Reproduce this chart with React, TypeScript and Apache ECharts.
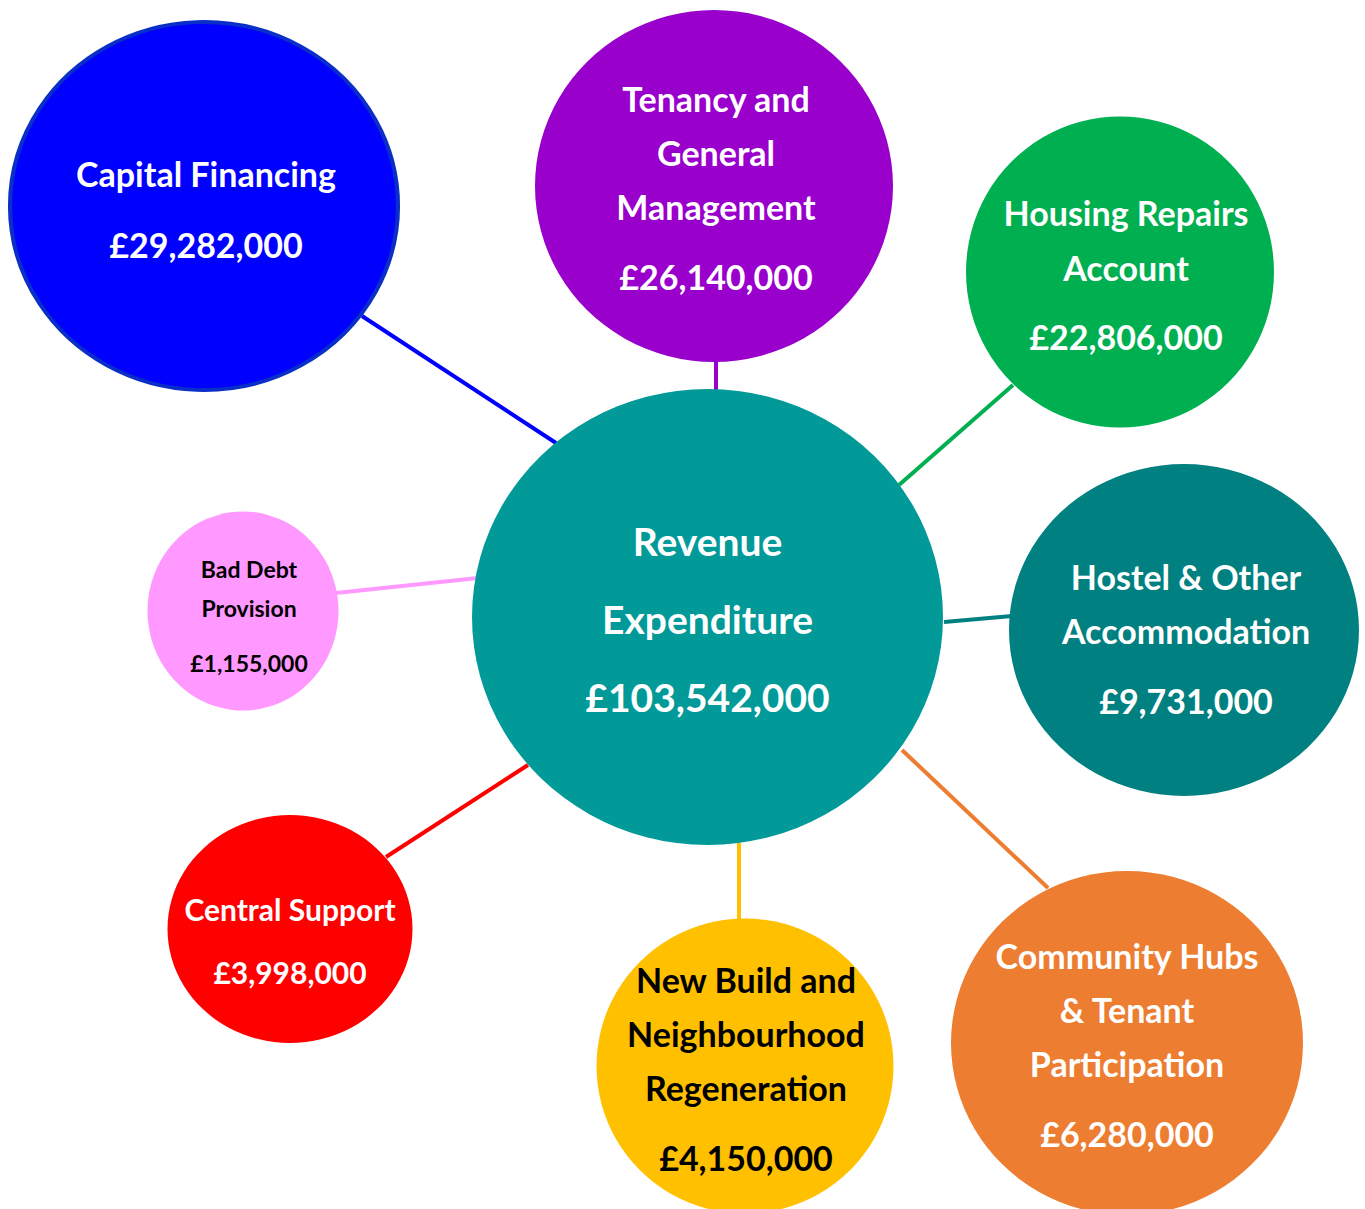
import React, { useEffect, useRef } from "react";
import * as echarts from "echarts";

// ---- data ----
const categories: string[][] = [
  ["Revenue", "Expenditure"],
  ["Capital Financing"],
  ["Tenancy and", "General", "Management"],
  ["Housing Repairs", "Account"],
  ["Hostel & Other", "Accommodation"],
  ["Community Hubs", "& Tenant", "Participation"],
  ["New Build and", "Neighbourhood", "Regeneration"],
  ["Central Support"],
  ["Bad Debt", "Provision"],
];
const amounts: number[] = [103542000, 29282000, 26140000, 22806000, 9731000, 6280000, 4150000, 3998000, 1155000];

// ---- layout (diagram positions in a 1365 x 1209 space) ----
const centers: number[][] = [
  [707.5, 617], [204, 206], [714, 186], [1120, 272], [1184, 630],
  [1127, 1043], [745, 1066], [290, 929], [243, 611],
];
const sizes: number[][] = [
  [471, 456], [388, 368], [358, 352], [308, 311], [350, 332],
  [352, 344], [297, 295], [245, 228], [191, 199],
];
// connector segments (from, to) for each satellite bubble
const connectors: number[][][] = [
  [[362, 316], [556, 443]],
  [[716, 358], [716, 394]],
  [[1013, 385], [899, 485]],
  [[944, 622], [1012, 616]],
  [[902, 750], [1048, 888]],
  [[739, 843], [739, 922]],
  [[386, 857], [528, 765]],
  [[336, 593], [478, 578]],
];

// ---- styles ----
const fills = ["#029999", "#0000FF", "#9900CC", "#00B050", "#008080", "#ED7D31", "#FFC000", "#FF0000", "#FF99FF"];
const textColors = ["#fff", "#fff", "#fff", "#fff", "#fff", "#fff", "#000", "#fff", "#000"];
const fontSizes = [39, 34, 34, 34, 34, 34, 34, 30, 23];
const nameLineHeights = [78, 54, 54, 55, 54, 54, 54, 50, 39];
const valueLineHeights = [78, 88, 86, 83, 86, 86, 86, 76, 71];
const labelOffsets = [[0, 2], [2, 11], [2, 9], [6, 9], [2, 16], [0, 9], [1, 10], [0, 18], [6, 13]];
const FONT = "Lato, 'Open Sans', sans-serif";

const fmt = (v: number) => "£" + v.toLocaleString("en-GB");

export default function App() {
  const ref = useRef<HTMLDivElement>(null);
  useEffect(() => {
    document.body.style.margin = "0";
    const chart = echarts.init(ref.current!, undefined, { renderer: "svg" });
    const bubbleData = categories.map((lines, i) => ({
      name: lines.join(" "),
      value: [centers[i][0], centers[i][1], amounts[i]],
      symbolSize: sizes[i],
      itemStyle: {
        color: fills[i],
        opacity: 1,
        borderColor: i === 1 ? "#0A2FC8" : fills[i],
        borderWidth: i === 1 ? 4 : 0,
      },
      label: {
        show: true,
        position: "inside",
        offset: labelOffsets[i],
        formatter: lines.map((l) => `{n|${l}}`).join("\n") + `\n{v|${fmt(amounts[i])}}`,
        rich: {
          n: {
            fontFamily: FONT,
            fontWeight: "bold",
            fontSize: fontSizes[i],
            lineHeight: nameLineHeights[i],
            color: textColors[i],
            align: "center",
          },
          v: {
            fontFamily: FONT,
            fontWeight: "bold",
            fontSize: fontSizes[i],
            lineHeight: valueLineHeights[i],
            color: textColors[i],
            align: "center",
          },
        },
      },
    }));
    const lineData = connectors.map((c, i) => ({
      coords: c,
      lineStyle: { color: fills[i + 1], width: 4, opacity: 1 },
    }));
    chart.setOption({
      animation: false,
      backgroundColor: "#ffffff",
      grid: { left: 0, right: 0, top: 0, bottom: 0, containLabel: false },
      xAxis: { type: "value", min: 0, max: 1365, show: false },
      yAxis: { type: "value", min: 0, max: 1209, inverse: true, show: false },
      series: [
        {
          type: "lines",
          coordinateSystem: "cartesian2d",
          z: 1,
          silent: true,
          symbol: "none",
          data: lineData,
        },
        {
          type: "scatter",
          z: 2,
          symbol: "circle",
          itemStyle: { opacity: 1 },
          data: bubbleData,
          emphasis: { disabled: true },
        },
      ],
    });
    return () => chart.dispose();
  }, []);
  return <div ref={ref} style={{ width: 1365, height: 1209 }} />;
}
